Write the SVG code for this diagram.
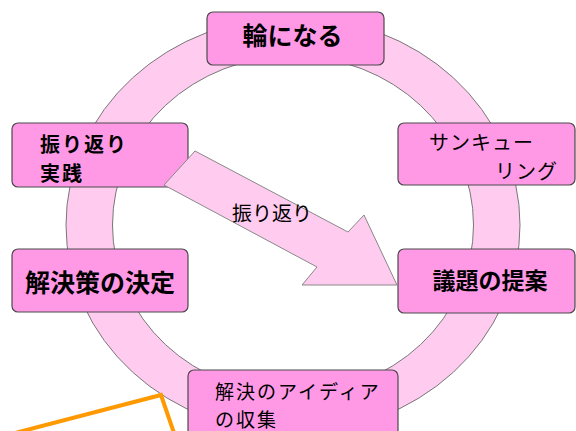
<svg xmlns="http://www.w3.org/2000/svg" width="576" height="431" viewBox="0 0 576 431">
<style>
.box{fill:#FF99E6;stroke:#4a4a4a;stroke-width:1.2}
.t{font-family:"Noto Sans CJK JP","Noto Sans",sans-serif;fill:#000}
.b{font-weight:bold}
</style>
<rect width="576" height="431" fill="#fff"/>
<g id="ring">
<path d="M66,225 a227,208 0 1,0 454,0 a227,208 0 1,0 -454,0 Z M112.5,225 a180.5,169 0 1,0 361,0 a180.5,169 0 1,0 -361,0 Z" fill="#FFCCF0" fill-rule="evenodd" stroke="#777" stroke-width="1"/>
</g>
<g id="n1"><rect class="box" x="207" y="12" width="177" height="53" rx="6"/><text class="t b" x="292.5" y="45" font-size="25" text-anchor="middle">輪になる</text></g>
<g id="n2"><rect class="box" x="12" y="123" width="176" height="64" rx="6"/><text class="t b" x="40" y="152" font-size="20" letter-spacing="2">振り返り</text><text class="t b" x="40" y="181" font-size="20" letter-spacing="2">実践</text></g>
<g id="n3"><rect class="box" x="398" y="123" width="177" height="62" rx="6"/><text class="t" x="429" y="150" font-size="20" letter-spacing="1">サンキュー</text><text class="t" x="495" y="179" font-size="20" letter-spacing="1">リング</text></g>
<g id="n4"><rect class="box" x="12" y="249" width="176" height="63" rx="6"/><text class="t b" x="100" y="292" font-size="25" text-anchor="middle">解決策の決定</text></g>
<g id="n5"><rect class="box" x="398" y="249" width="177" height="64" rx="6"/><text class="t b" x="490" y="289" font-size="23" text-anchor="middle">議題の提案</text></g>
<g id="n6"><rect class="box" x="188" y="370" width="210" height="75" rx="6"/><text class="t" x="215" y="399" font-size="19" letter-spacing="2">解決のアイディア</text><text class="t" x="215" y="427" font-size="19" letter-spacing="2">の収集</text></g>
<g id="connectors">
<polygon points="195,151 348,232 364,215 397,285 302,285 317,267 164,185" fill="#FFCCF0" stroke="#888" stroke-width="1"/>
<text class="t" x="232" y="221" font-size="20">振り返り</text>
</g>
<polyline points="15,433 161,395 174,433" fill="none" stroke="#FF9900" stroke-width="4"/>
</svg>
